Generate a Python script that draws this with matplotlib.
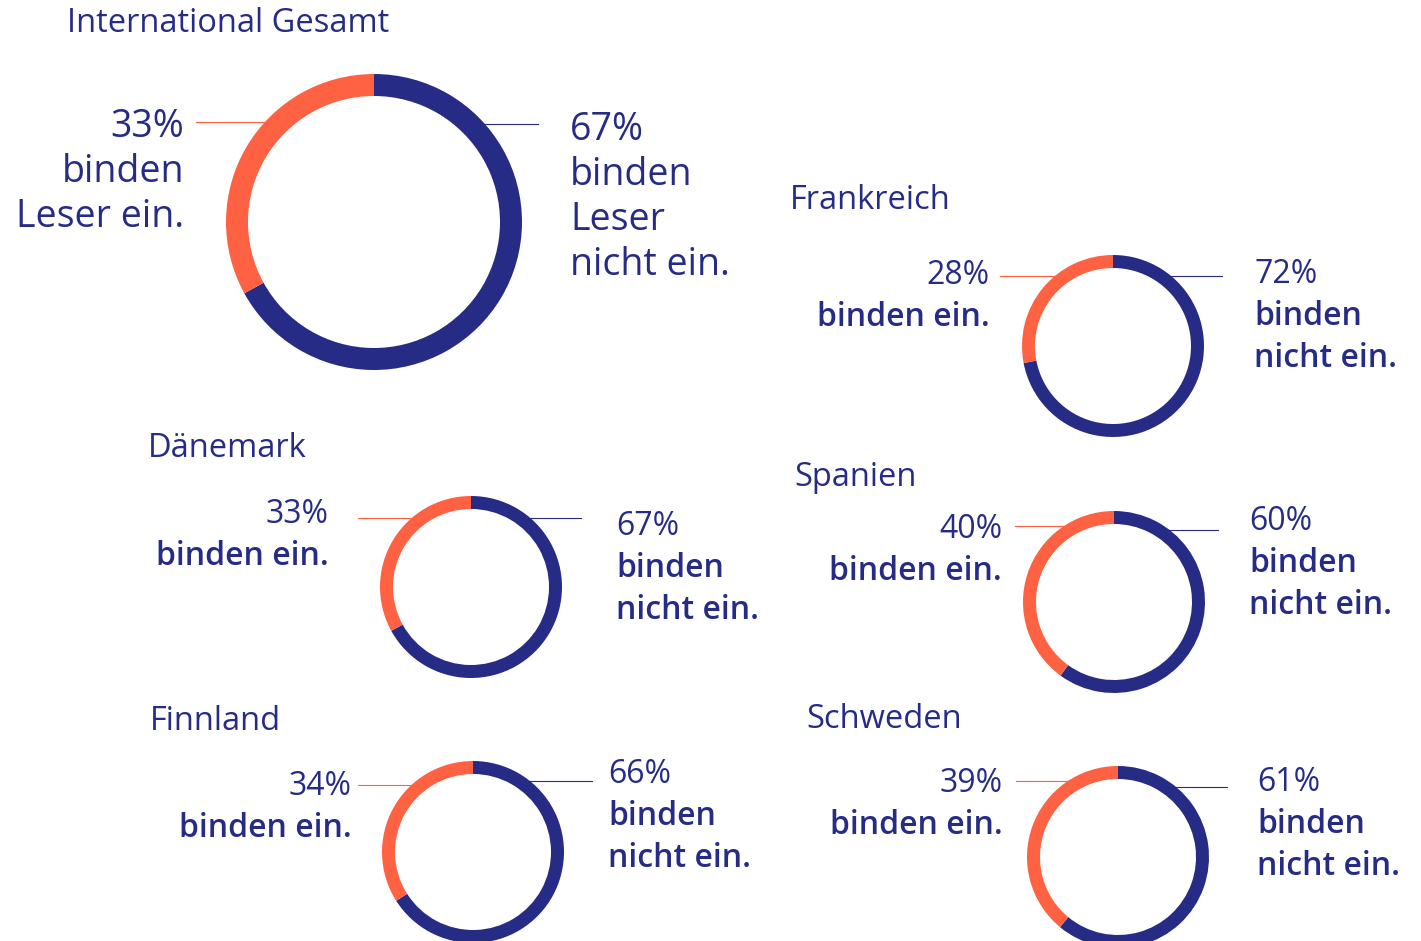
import numpy as np
import matplotlib.pyplot as plt

# canvas in pixels, y measured from the top
W, H = 1421, 941
NAVY = '#262c86'
ORANGE = '#ff6242'
plt.rcParams['font.family'] = ['Open Sans', 'DejaVu Sans']

countries = ['International Gesamt', 'Frankreich', 'Dänemark', 'Spanien', 'Finnland', 'Schweden']
engaged = [33, 28, 33, 40, 34, 39]       # binden Leser ein
not_engaged = [67, 72, 67, 60, 66, 61]   # binden Leser nicht ein

# ring geometry: center (x, y from top), outer radius, ring width
centers = [(374, 222), (1113, 346), (471, 587), (1114, 602), (473, 852), (1118, 857)]
radii = [148, 91, 91, 91, 91, 91]
widths = [22, 13, 13, 13, 13, 13]

title_pos = [(67, 32), (790, 209), (148, 457), (794, 486), (150, 730), (806, 728)]
# left label: right edge x, first baseline; right label: left x, first baseline
left_pos = [(184, 137), (990, 284), (329, 523), (1002, 538), (352, 795), (1003, 792)]
right_pos = [(570, 140), (1254, 283), (616, 535), (1249, 530), (608, 783), (1257, 791)]
# connector lines: (start x, y) for orange and navy side
left_line = [(196, 122), (1000, 276), (358, 518), (1015, 526), (358, 785), (1016, 781)]
right_line = [(538, 124), (1222, 276), (581, 518), (1218, 530), (592, 781), (1227, 787)]

fig = plt.figure(figsize=(W / 100, H / 100), dpi=100)
ax = fig.add_axes([0, 0, 1, 1])

for i, name in enumerate(countries):
    cx, cy = centers[i]
    r, w = radii[i], widths[i]
    big = i == 0
    ax.pie([not_engaged[i], engaged[i]], colors=[NAVY, ORANGE],
           center=(cx, H - cy), radius=r, startangle=90, counterclock=False,
           wedgeprops=dict(width=w, linewidth=0), frame=True)

    # thin leader lines that run in under the ring
    rm = r - w / 2
    lx, ly = left_line[i]
    ax.plot([lx, cx - np.sqrt(rm**2 - (ly - cy)**2)], [H - ly, H - ly],
            color=ORANGE, lw=0.8, zorder=0)
    rx, ry = right_line[i]
    ax.plot([rx, cx + np.sqrt(rm**2 - (ry - cy)**2)], [H - ry, H - ry],
            color=NAVY, lw=0.8, zorder=0)

    ax.text(title_pos[i][0], H - title_pos[i][1], name, fontsize=23.5,
            color=NAVY, ha='left', va='baseline')

    if big:
        fs, step, wt = 27, 45, 'normal'
        left_lines = [f'{engaged[i]}%', 'binden', 'Leser ein.']
        right_lines = [f'{not_engaged[i]}%', 'binden', 'Leser', 'nicht ein.']
        left_w = [wt] * 3
        right_w = [wt] * 4
    else:
        fs, step = 23, 42
        left_lines = [f'{engaged[i]}%', 'binden ein.']
        right_lines = [f'{not_engaged[i]}%', 'binden', 'nicht ein.']
        left_w = ['normal', 'semibold']
        right_w = ['normal', 'semibold', 'semibold']

    x0, y0 = left_pos[i]
    for k, (s, fw) in enumerate(zip(left_lines, left_w)):
        ax.text(x0, H - (y0 + k * step), s, fontsize=fs, fontweight=fw,
                color=NAVY, ha='right', va='baseline')
    x0, y0 = right_pos[i]
    for k, (s, fw) in enumerate(zip(right_lines, right_w)):
        ax.text(x0, H - (y0 + k * step), s, fontsize=fs, fontweight=fw,
                color=NAVY, ha='left', va='baseline')

ax.set_xlim(0, W)
ax.set_ylim(0, H)
ax.set_aspect('equal')
ax.axis('off')
fig.savefig('out.png', dpi=100, facecolor='white')
